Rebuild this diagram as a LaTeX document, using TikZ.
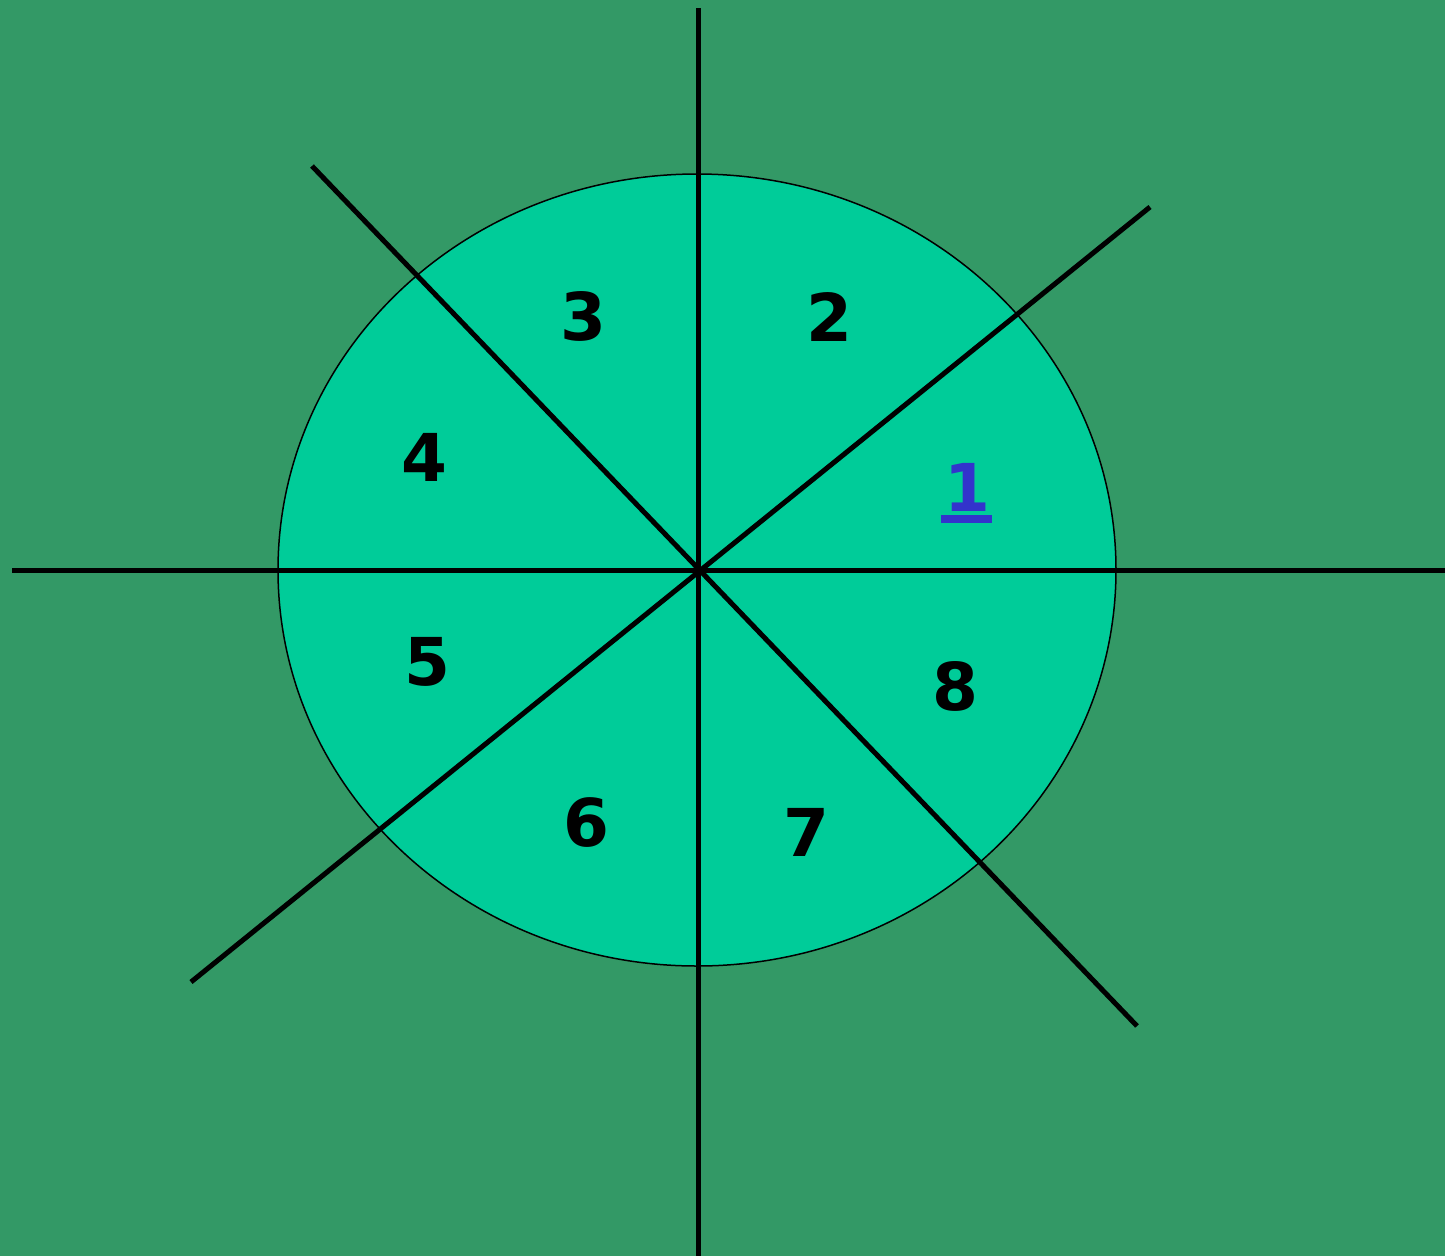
\documentclass[tikz,border=0pt]{standalone}
\usepackage{fontspec}
\setmainfont{DejaVu Sans}
\usetikzlibrary{positioning}
\definecolor{field}{HTML}{339966}
\definecolor{disc}{HTML}{00CC99}
\definecolor{mark}{HTML}{3333CC}
\newcommand\ulnum[1]{\rlap{\hspace{-0.05em}\rule[-0.18em]{0.78em}{0.12em}}#1}
\tikzset{
  every picture/.style={line join=round, line cap=butt},
  ray/.style={line width=5pt, black},
  num/.style={inner sep=0pt, font=\fontsize{66}{66}\selectfont\bfseries},
}

\begin{document}
\begin{tikzpicture}[x=1pt,y=-1pt]
\fill[field](0,0) rectangle (1445,1256);
\useasboundingbox (0,0) rectangle (1445,1256);
\filldraw[fill=disc,draw=black,line width=1.5pt](697,570) ellipse [x radius=419, y radius=396];
% ends of the four lines
\coordinate (n) at (698,8);
\coordinate (s) at (698,1256);
\coordinate (w) at (12,570);
\coordinate (e) at (1445,570);
\coordinate (nw) at (312,166);
\coordinate (se) at (1137,1026);
\coordinate (ne) at (1150,207);
\coordinate (sw) at (191,982);
\draw[ray](n)--(s);
\draw[ray](w)--(e);
\draw[ray](nw)--(se);
\draw[ray](ne)--(sw);
% sector numbers
\node[num,anchor=base,text=mark] (one) at (967,511){\ulnum{1}};
\node[num] (two) at (829,317){2};
\node[num] (three) at (583,316){3};
\node[num] (four) at (424,457){4};
\node[num] (five) at (427,662){5};
\node[num] (six) at (586,822){6};
\node[num] (seven) at (806,832){7};
\node[num] (eight) at (955,686){8};
\end{tikzpicture}
\end{document}
